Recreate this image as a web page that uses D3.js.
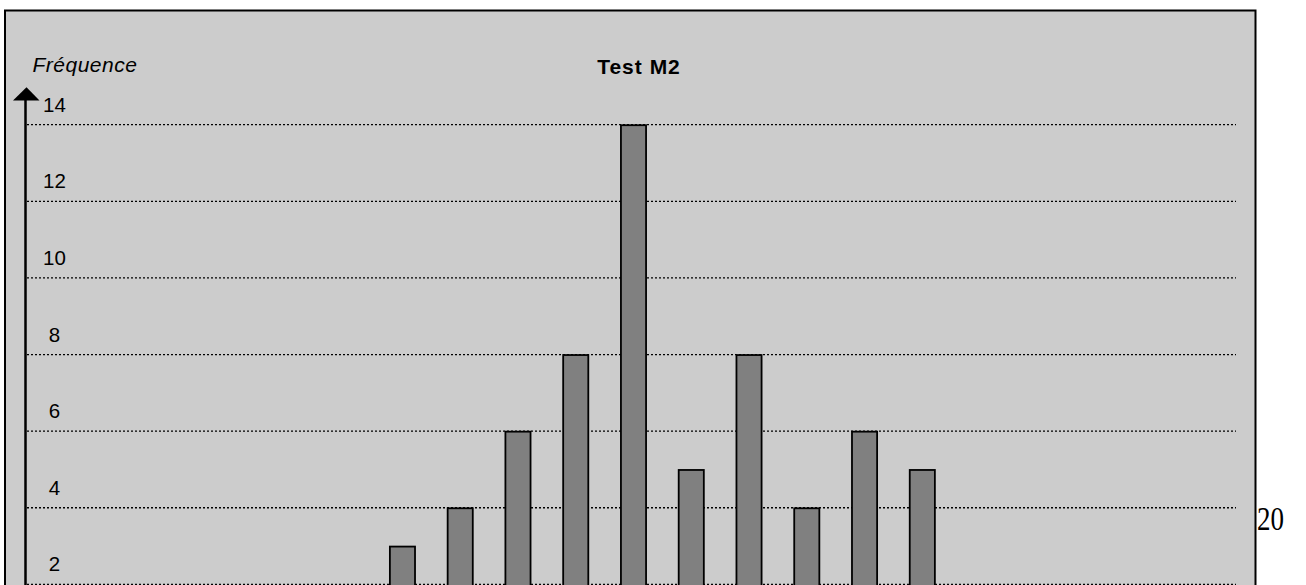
<!DOCTYPE html>
<html>
<head>
<meta charset="utf-8">
<script src="https://cdn.jsdelivr.net/npm/d3@7"></script>
<style>
  html, body { margin: 0; padding: 0; background: #ffffff; overflow: hidden; }
  svg { display: block; }
</style>
</head>
<body>
<svg id="chart" width="1306" height="585"></svg>
<script>
// ---- data ----
const scores = d3.range(0, 21);                       // categories (notes 0..20)
const frequencies = [0,0,0,0,0,0,3,4,6,8,14,5,8,4,6,5,0,0,0,0,0]; // fréquence per score
const yTicks = [2, 4, 6, 8, 10, 12, 14];
const chartTitle = "Test M2";
const yLabel = "Fréquence";
const pageNumber = "20";

const svg = d3.select("#chart");

// frame
svg.append("rect")
  .attr("x", 5).attr("y", 10.5)
  .attr("width", 1250.5).attr("height", 720)
  .attr("fill", "#cccccc")
  .attr("stroke", "#000").attr("stroke-width", 2);

// scales
const x = d3.scaleBand().domain(scores).range([27, 1240])
  .paddingInner(0.565).paddingOuter(0.2825);
const y = d3.scaleLinear().domain([0, 14]).range([661, 124.7]);

// gridlines
svg.append("g").selectAll("line").data(yTicks).join("line")
  .attr("x1", 27).attr("x2", 1236)
  .attr("y1", d => y(d)).attr("y2", d => y(d))
  .attr("stroke", "#000").attr("stroke-width", 1.3)
  .attr("stroke-dasharray", "2,2");

// tick labels
svg.append("g").selectAll("text").data(yTicks).join("text")
  .attr("x", 54.5).attr("y", d => y(d) - 13)
  .attr("text-anchor", "middle")
  .attr("font-family", "Liberation Sans, Arial, sans-serif")
  .attr("font-size", 20.5)
  .attr("fill", "#000")
  .text(d => d);

// bars
svg.append("g").selectAll("rect")
  .data(scores.map((s, i) => ({s, v: frequencies[i]})).filter(d => d.v > 0))
  .join("rect")
  .attr("x", d => x(d.s))
  .attr("y", d => y(d.v) + 0.5)
  .attr("width", x.bandwidth())
  .attr("height", d => y(0) - y(d.v))
  .attr("fill", "#808080")
  .attr("stroke", "#000").attr("stroke-width", 1.8);

// vertical axis with arrow
svg.append("line")
  .attr("x1", 25.5).attr("x2", 25.5)
  .attr("y1", 99).attr("y2", y(0))
  .attr("stroke", "#000").attr("stroke-width", 2.5);
svg.append("path")
  .attr("d", d3.line()([[13, 100.5], [26.5, 87.3], [39.5, 100.5]]) + "Z")
  .attr("fill", "#000");

// y label
svg.append("text")
  .attr("x", 32.5).attr("y", 72)
  .attr("font-family", "Liberation Sans, Arial, sans-serif")
  .attr("font-size", 21).attr("font-style", "italic")
  .attr("letter-spacing", 0.5)
  .text(yLabel);

// title
svg.append("text")
  .attr("x", 639).attr("y", 73.5)
  .attr("text-anchor", "middle")
  .attr("font-family", "Liberation Sans, Arial, sans-serif")
  .attr("font-size", 21).attr("font-weight", "bold")
  .attr("letter-spacing", 1)
  .text(chartTitle);

// page number outside frame
svg.append("text")
  .attr("x", 1257).attr("y", 530)
  .attr("font-family", "Liberation Serif, 'DejaVu Serif', serif")
  .attr("font-size", 33)
  .attr("textLength", 27).attr("lengthAdjust", "spacingAndGlyphs")
  .text(pageNumber);
</script>
</body>
</html>
